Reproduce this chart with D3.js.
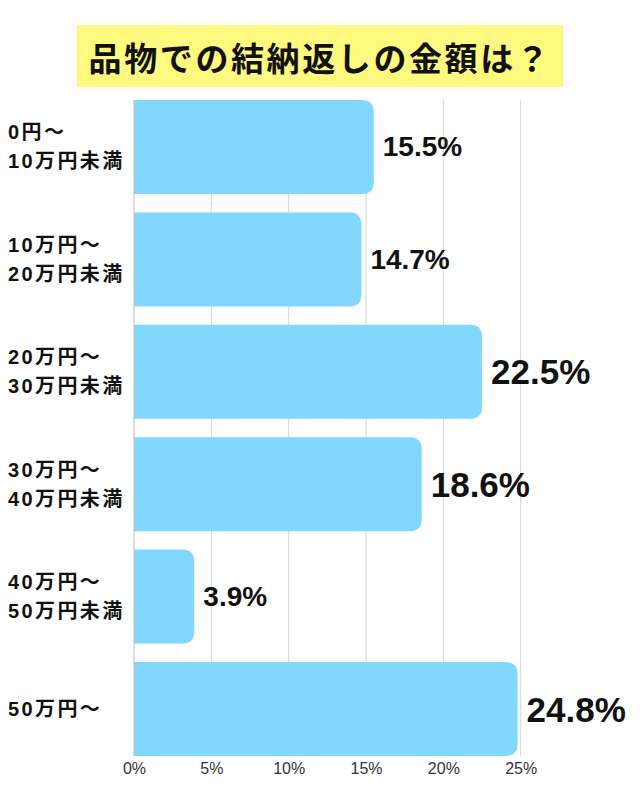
<!DOCTYPE html>
<html>
<head>
<meta charset="utf-8">
<script src="https://cdn.jsdelivr.net/npm/d3@7"></script>
<style>
  body { margin: 0; background: #fff; }
  svg { display: block; font-family: "Liberation Sans", "Noto Sans CJK JP", sans-serif; }
</style>
</head>
<body>
<svg id="chart" width="640" height="800"></svg>
<script>
// Chart data
const title = '品物での結納返しの金額は？';
const categories = [
    ['0円～', '10万円未満'],
    ['10万円～', '20万円未満'],
    ['20万円～', '30万円未満'],
    ['30万円～', '40万円未満'],
    ['40万円～', '50万円未満'],
    ['50万円～']
];
const values = [15.5, 14.7, 22.5, 18.6, 3.9, 24.8];
const ticks = [0, 5, 10, 15, 20, 25];
const bigLabel = [false, false, true, true, false, true];

const svg = d3.select('#chart');
const plotLeft = 134, plotRight = 520.7, plotTop = 100, plotBottom = 756;

const x = d3.scaleLinear().domain([0, 25]).range([plotLeft, plotRight]);
const y = d3.scaleBand()
    .domain(d3.range(categories.length))
    .range([plotTop, plotBottom])
    .paddingInner(0.164)
    .paddingOuter(0);

// Title box
svg.append('rect')
    .attr('x', 77).attr('y', 25)
    .attr('width', 486).attr('height', 62)
    .attr('fill', '#fff97f');

svg.append('text')
    .attr('x', 320).attr('y', 57)
    .attr('text-anchor', 'middle')
    .attr('dominant-baseline', 'central')
    .attr('font-family', '"Noto Sans CJK JP", sans-serif')
    .attr('font-weight', 'bold')
    .attr('font-size', 33)
    .attr('letter-spacing', 2.6)
    .attr('fill', '#111')
    .text(title);

// Gridlines
svg.append('g')
    .selectAll('line')
    .data(ticks.slice(1))
    .join('line')
    .attr('x1', d => x(d)).attr('x2', d => x(d))
    .attr('y1', plotTop).attr('y2', plotBottom)
    .attr('stroke', '#d4d4d4')
    .attr('stroke-width', 1);

// Bars with rounded right end
const r = 12;
svg.append('g')
    .selectAll('path')
    .data(values)
    .join('path')
    .attr('d', (d, i) => {
        const x0 = x(0), x1 = x(d), y0 = y(i), h = y.bandwidth();
        const rr = Math.min(r, x1 - x0);
        return `M${x0},${y0}H${x1 - rr}Q${x1},${y0} ${x1},${y0 + rr}` +
            `V${y0 + h - rr}Q${x1},${y0 + h} ${x1 - rr},${y0 + h}H${x0}Z`;
    })
    .attr('fill', '#82d7fc');

// Left axis line
svg.append('line')
    .attr('x1', plotLeft).attr('x2', plotLeft)
    .attr('y1', plotTop).attr('y2', plotBottom)
    .attr('stroke', '#bdbdbd')
    .attr('stroke-width', 1);

// Value labels
svg.append('g')
    .selectAll('text')
    .data(values)
    .join('text')
    .attr('x', d => x(d) + 9)
    .attr('y', (d, i) => y(i) + y.bandwidth() / 2)
    .attr('dominant-baseline', 'central')
    .attr('font-weight', 'bold')
    .attr('font-size', (d, i) => bigLabel[i] ? 35 : 28)
    .attr('fill', '#111')
    .text(d => d.toFixed(1) + '%');

// Category labels
const cat = svg.append('g')
    .selectAll('text')
    .data(categories)
    .join('text')
    .attr('x', 8)
    .attr('font-weight', 'bold')
    .attr('font-size', 20)
    .attr('letter-spacing', 2.4)
    .attr('fill', '#111');

cat.selectAll('tspan')
    .data((d, i) => d.map((t, j) => ({ t, j, n: d.length, i })))
    .join('tspan')
    .attr('x', 8)
    .attr('y', d => y(d.i) + y.bandwidth() / 2 + (d.j - (d.n - 1) / 2) * 29)
    .attr('dominant-baseline', 'central')
    .text(d => d.t);

// Bottom tick labels
const xAxis = d3.axisBottom(x)
    .tickValues(ticks)
    .tickSize(0)
    .tickPadding(7)
    .tickFormat(d => d + '%');

svg.append('g')
    .attr('transform', `translate(0,${plotBottom})`)
    .call(xAxis)
    .call(g => g.select('.domain').remove())
    .call(g => g.selectAll('text')
        .attr('font-size', 16)
        .attr('font-family', '"Liberation Sans", sans-serif')
        .attr('fill', '#333'));
</script>
</body>
</html>
